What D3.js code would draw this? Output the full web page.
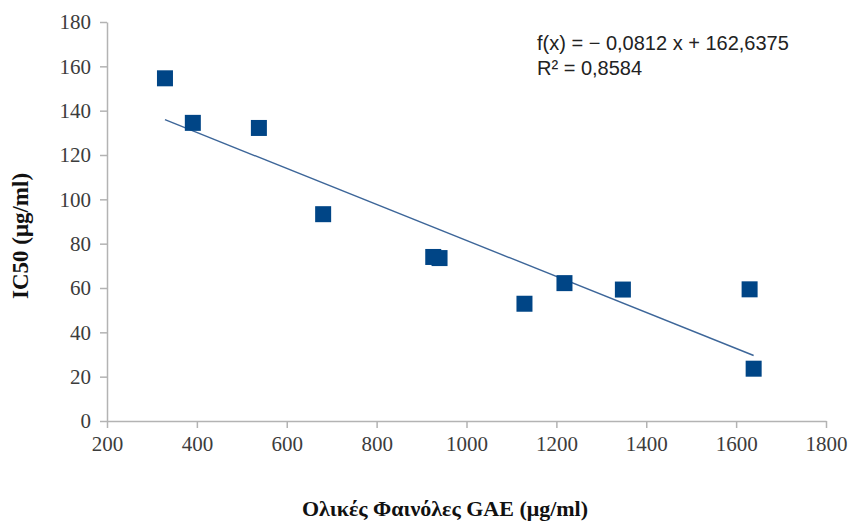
<!DOCTYPE html>
<html>
<head>
<meta charset="utf-8">
<script src="https://cdn.jsdelivr.net/npm/d3@7"></script>
<style>
  body { margin: 0; background: #fff; }
  .axis path, .axis line { stroke: #b3b3b3; stroke-width: 1.5; }
</style>
</head>
<body>
<script>
// values
var phenols = [329, 391, 538, 681, 926, 940, 1129, 1218, 1348, 1630, 1639];
var ic50 = [154.6, 134.5, 132.2, 93.3, 74, 73.5, 52.9, 62.2, 59.3, 59.4, 23.6];
var xTicks = [200, 400, 600, 800, 1000, 1200, 1400, 1600, 1800];
var yTicks = [0, 20, 40, 60, 80, 100, 120, 140, 160, 180];
var slope = -0.0812, intercept = 162.6375;
var eqLines = ["f(x) = \u2212 0,0812 x + 162,6375", "R\u00b2 = 0,8584"];
var xTitle = "Ολικές Φαινόλες GAE (μg/ml)";
var yTitle = "IC50 (μg/ml)";

var w = 849, h = 525;
var margin = {top: 22, right: 23, bottom: 104, left: 107};
var width = w - margin.left - margin.right;
var height = h - margin.top - margin.bottom;

var svg = d3.select("body").append("svg")
    .attr("width", w)
    .attr("height", h);
var chart = svg.append("g")
    .attr("transform", "translate(" + margin.left + "," + margin.top + ")");

var x = d3.scaleLinear().domain([200, 1800]).range([0, width]);
var y = d3.scaleLinear().domain([0, 180]).range([height, 0]);

var gx = chart.append("g")
    .attr("class", "axis")
    .attr("transform", "translate(0," + height + ")")
    .call(d3.axisBottom(x).tickValues(xTicks).tickFormat(d3.format("d"))
        .tickSizeInner(7).tickSizeOuter(0).tickPadding(8));
var gy = chart.append("g")
    .attr("class", "axis")
    .call(d3.axisLeft(y).tickValues(yTicks).tickFormat(d3.format("d"))
        .tickSizeInner(7).tickSizeOuter(0).tickPadding(9));

[gx, gy].forEach(function (g) {
    g.selectAll("text")
        .style("font-family", "'Liberation Serif', 'DejaVu Serif', serif")
        .style("font-size", "21px")
        .style("fill", "#3c3c3c");
});

// trend line over the data range
var xr = d3.extent(phenols);
chart.append("line")
    .attr("x1", x(xr[0])).attr("y1", y(slope * xr[0] + intercept))
    .attr("x2", x(xr[1])).attr("y2", y(slope * xr[1] + intercept))
    .attr("stroke", "#3d6699")
    .attr("stroke-width", 1.4);

var s = 16;
chart.selectAll(".pt")
    .data(phenols)
    .enter()
    .append("rect")
    .attr("class", "pt")
    .attr("x", function (d) { return x(d) - s / 2; })
    .attr("y", function (d, i) { return y(ic50[i]) - s / 2; })
    .attr("width", s)
    .attr("height", s)
    .attr("fill", "#004586");

svg.selectAll(".eq")
    .data(eqLines)
    .enter()
    .append("text")
    .attr("class", "eq")
    .attr("x", 537)
    .attr("y", function (d, i) { return 50 + i * 25; })
    .style("font-family", "'Liberation Sans', Arial, sans-serif")
    .style("font-size", "20px")
    .style("fill", "#222")
    .text(function (d) { return d; });

svg.append("text")
    .attr("x", 445)
    .attr("y", 516)
    .attr("text-anchor", "middle")
    .style("font-family", "'Liberation Serif', serif")
    .style("font-weight", "bold")
    .style("font-size", "22px")
    .style("fill", "#111")
    .text(xTitle);

svg.append("text")
    .attr("transform", "translate(28,236) rotate(-90)")
    .attr("text-anchor", "middle")
    .style("font-family", "'Liberation Serif', serif")
    .style("font-weight", "bold")
    .style("font-size", "23px")
    .style("fill", "#111")
    .text(yTitle);
</script>
</body>
</html>
